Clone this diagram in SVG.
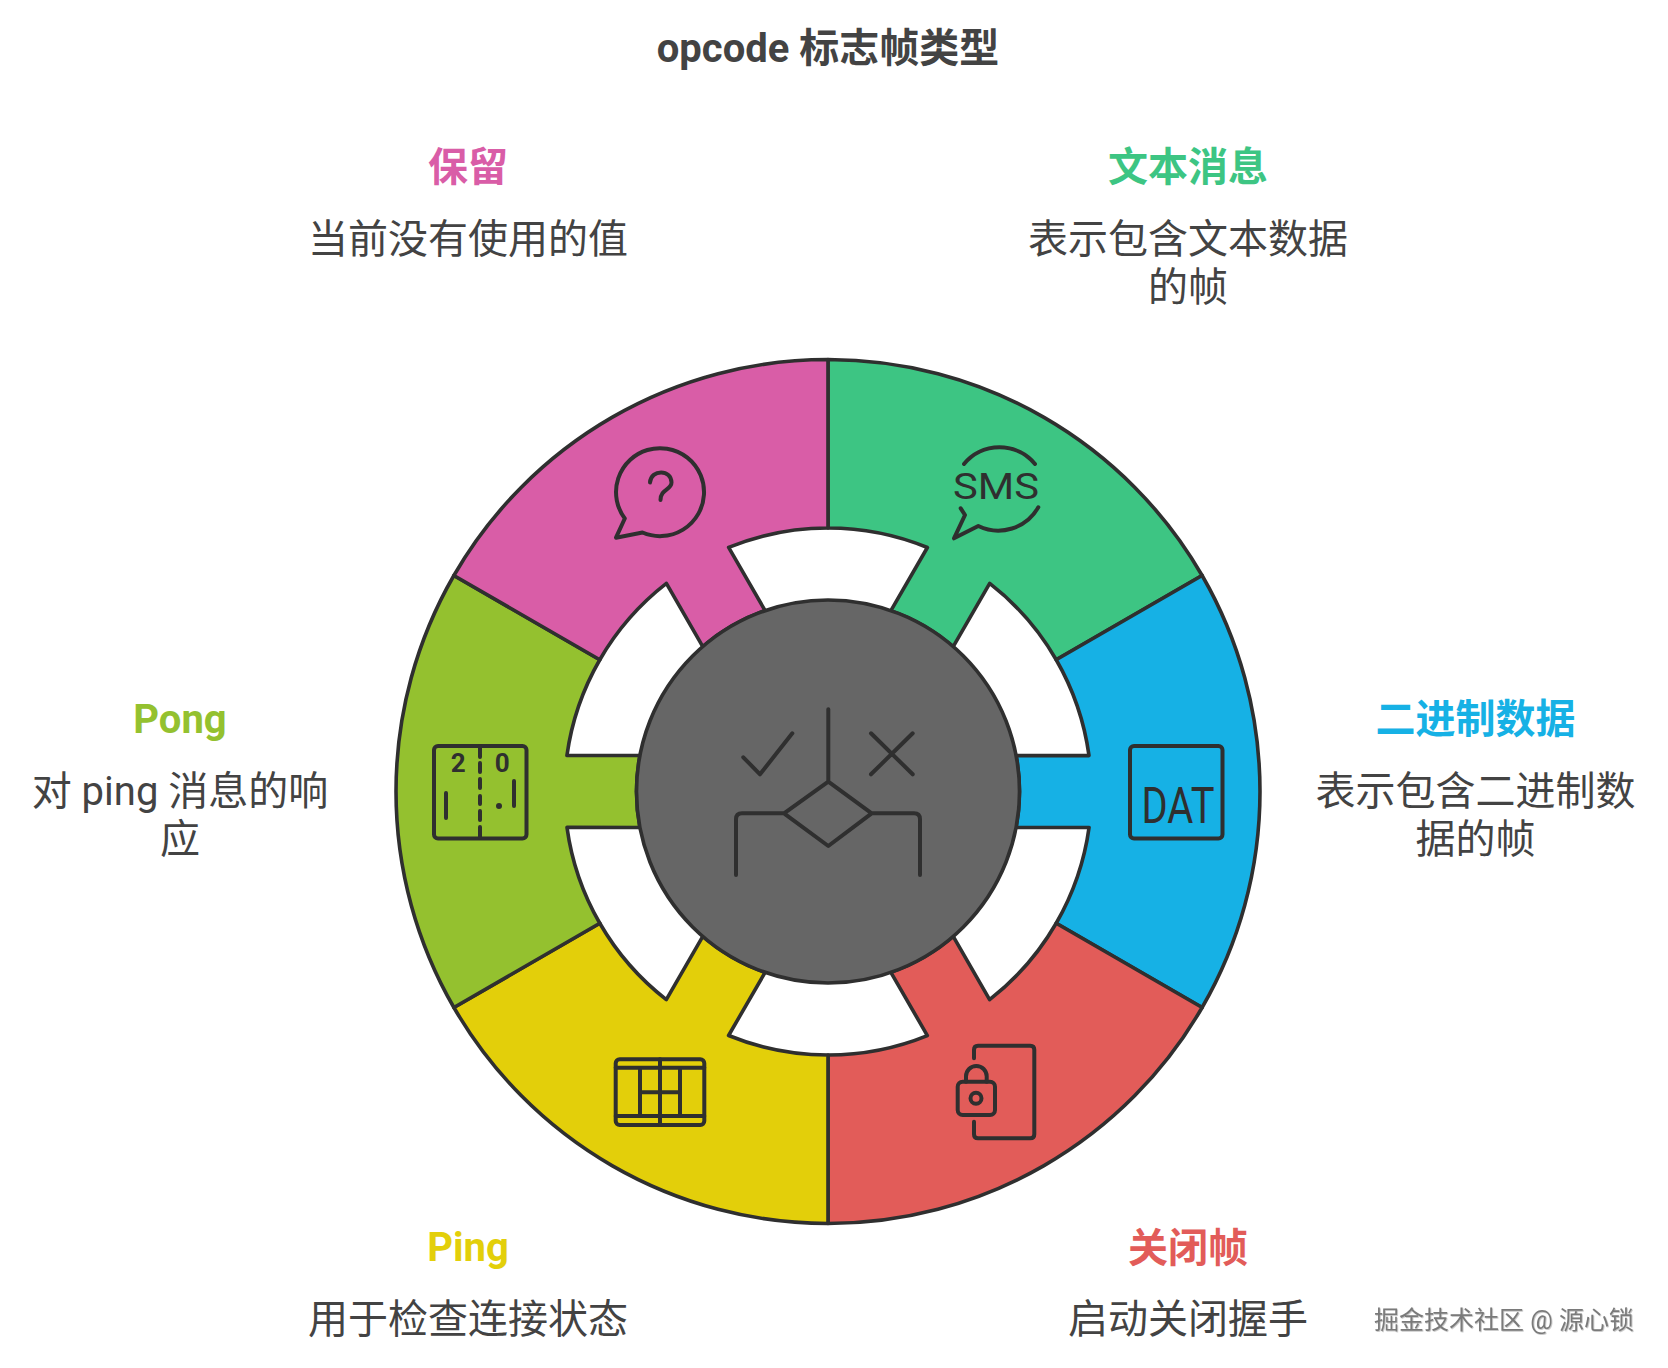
<svg xmlns="http://www.w3.org/2000/svg" width="1668" height="1368" viewBox="0 0 1668 1368">
<style>
text{font-family:Roboto,"Noto Sans CJK SC",sans-serif;font-size:40px;text-anchor:middle;fill:#434343}
.h{font-weight:700}
.w{stroke:#2f2f2f;stroke-width:3.6;stroke-linejoin:round}
.i{fill:none;stroke:#2f2f2f;stroke-width:4;stroke-linecap:round;stroke-linejoin:round}
text.l{fill:#2f2f2f;text-anchor:start}
text.n{fill:#2f2f2f;font-weight:700;font-size:26px}
text.wm{font-size:25px;fill:#7a7a7a;filter:url(#ws)}
</style>
<defs>
<filter id="ws" x="-5%" y="-20%" width="110%" height="140%"><feDropShadow dx="0.8" dy="0.8" stdDeviation="0.6" flood-color="#bdbdbd"/></filter>
<path id="wedge" d="M828 359.5A432 432 0 0 1 1202.1 575.5L1056.2 659.75A263.5 263.5 0 0 0 989.7 583.4L953.2 646.6A191.5 191.5 0 0 0 890.9 610.6L927.4 547.5A263.5 263.5 0 0 0 828 528Z"/>
</defs>
<rect width="1668" height="1368" fill="#fff"/>
<text id="title" class="h" x="828" y="61.5">opcode 标志帧类型</text>

<g id="node-text">
<use href="#wedge" class="w" fill="#3dc583"/>
<g class="i"><path d="M964 464A46 46 0 0 1 1035 464"/><path d="M1038.3 507.3A46 46 0 0 1 978.3 526L954 538.3L965 515L960.7 508.3"/></g>
<text class="l" x="953" y="499" style="font-size:36px" textLength="86" lengthAdjust="spacingAndGlyphs">SMS</text>
<text class="h" x="1188" y="181" style="fill:#3dc583">文本消息</text>
<text x="1188" y="253">表示包含文本数据</text>
<text x="1188" y="301">的帧</text>
</g>

<g id="node-binary">
<use href="#wedge" class="w" fill="#16b1e5" transform="rotate(60 828 791.5)"/>
<rect class="i" x="1130" y="746" width="92.5" height="92.5" rx="4"/>
<text class="l" x="1141.5" y="823" style="font-size:50px" textLength="73" lengthAdjust="spacingAndGlyphs">DAT</text>
<text class="h" x="1475.5" y="733" style="fill:#16b1e5">二进制数据</text>
<text x="1475.5" y="805">表示包含二进制数</text>
<text x="1475.5" y="853">据的帧</text>
</g>

<g id="node-close">
<use href="#wedge" class="w" fill="#e25c59" transform="rotate(120 828 791.5)"/>
<path class="i" d="M974 1058.3V1049.7Q974 1045.7 978 1045.7H1030.3Q1034.3 1045.7 1034.3 1049.7V1134.3Q1034.3 1138.3 1030.3 1138.3H978Q974 1138.3 974 1134.3V1121.7"/>
<rect class="i" x="957.7" y="1081.7" width="37.3" height="33.3" rx="5"/>
<path class="i" d="M966 1081.7V1076.3A10.35 10.35 0 0 1 986.7 1076.3V1081.7"/>
<circle class="i" cx="976" cy="1098.3" r="5.5"/>
<text class="h" x="1188" y="1262" style="fill:#e25c59">关闭帧</text>
<text x="1188" y="1333">启动关闭握手</text>
</g>

<g id="node-ping">
<use href="#wedge" class="w" fill="#e3cf0a" transform="rotate(180 828 791.5)"/>
<rect class="i" x="615.7" y="1059.3" width="88.6" height="65.7" rx="4"/>
<path class="i" d="M615.7 1067.7H704.3M615.7 1116H704.3M660 1059.3V1125M640 1067.7V1116M680 1067.7V1116M640 1092.3H680"/>
<text class="h" x="468" y="1261" style="fill:#e3cf0a">Ping</text>
<text x="468" y="1333">用于检查连接状态</text>
</g>

<g id="node-pong">
<use href="#wedge" class="w" fill="#94c12f" transform="rotate(240 828 791.5)"/>
<rect class="i" x="434" y="746" width="92.5" height="92.5" rx="4"/>
<path class="i" d="M480 746V757M480 763V772M480 779V788M480 796V804M480 811V820M480 827V838M446 793V818M514 781V806"/>
<circle cx="499" cy="806" r="3" fill="#2f2f2f"/>
<text class="n" x="458.3" y="772">2</text>
<text class="n" x="502.3" y="772">0</text>
<text class="h" x="180" y="733" style="fill:#94c12f">Pong</text>
<text x="180" y="805">对 ping 消息的响</text>
<text x="180" y="853">应</text>
</g>

<g id="node-reserved">
<use href="#wedge" class="w" fill="#d95da7" transform="rotate(300 828 791.5)"/>
<path class="i" d="M624.8 518.5A44 44 0 1 1 642.5 532.5L616 537.7Z"/>
<path class="i" d="M650 482.5C651 469 671.5 469 671.5 482.5C671.5 490 660.5 489 660.5 500"/>
<text class="h" x="468" y="181" style="fill:#d95da7">保留</text>
<text x="468" y="253">当前没有使用的值</text>
</g>

<g id="node-center">
<circle class="w" cx="828" cy="791.5" r="191.5" fill="#666"/>
<path class="i" d="M828.3 709.3V781.7M828.3 781.7L871.7 813.3L828.3 846L784 813.3ZM784 813.3H742Q736 813.3 736 819.3V875M871.7 813.3H914Q920 813.3 920 819.3V875M743.3 757.3L760 774.3L792.3 733.3M871 733.3L912.7 774.3M912.7 733.3L871 774.3"/>
</g>

<text id="watermark" class="wm" x="1504" y="1329">掘金技术社区 @ 源心锁</text>
</svg>
